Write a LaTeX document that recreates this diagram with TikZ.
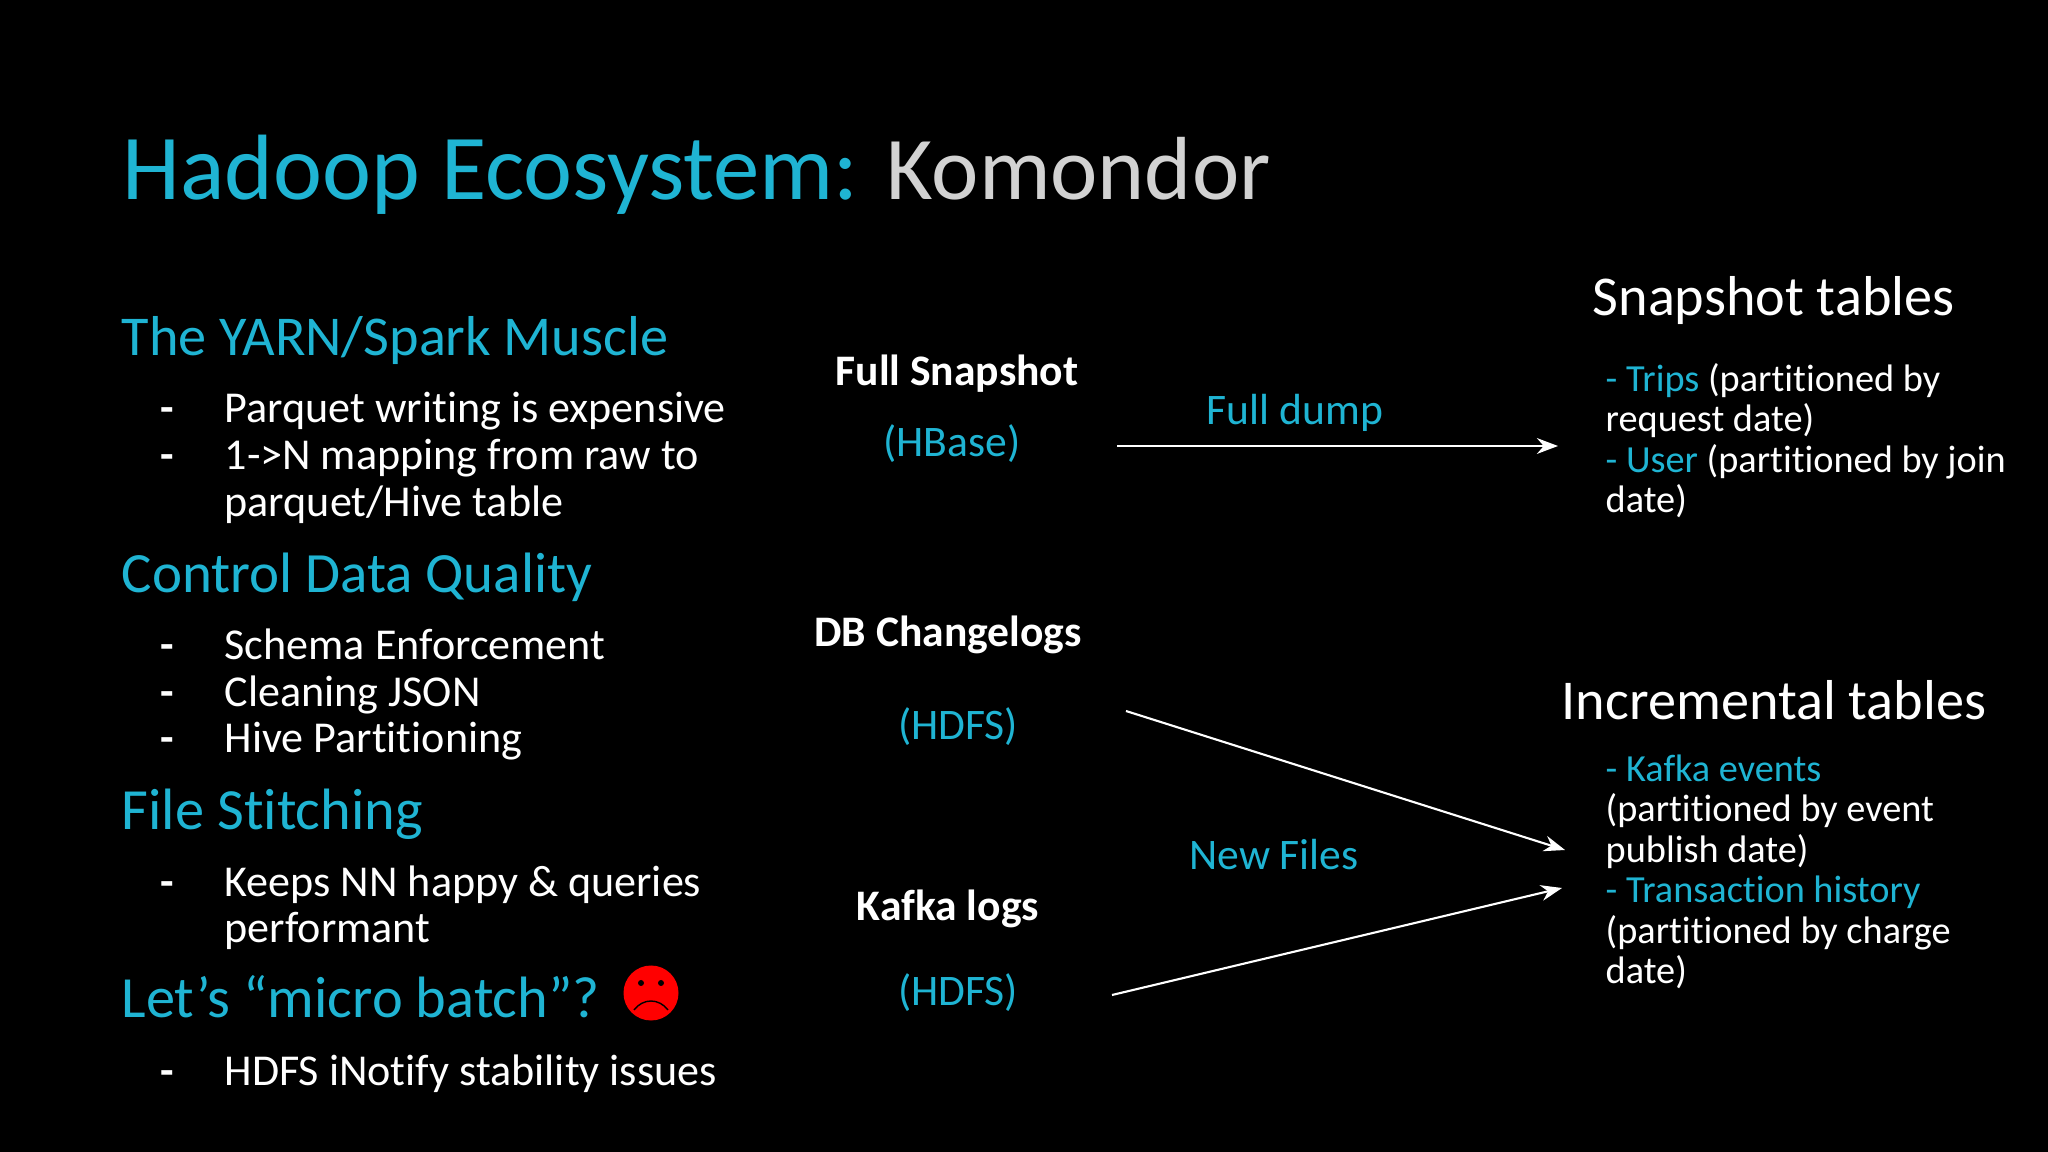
\documentclass[tikz,border=0pt]{standalone}
\usepackage{fontspec}
\setmainfont{Carlito}[Ligatures=NoCommon]
\usetikzlibrary{arrows.meta}
\definecolor{hadoopcyan}{HTML}{1FB4D3}
\definecolor{softgrey}{HTML}{D2D2D2}
\tikzset{
  titletext/.style={anchor=base west, inner sep=0pt, text=hadoopcyan, font=\fontsize{26.4}{32}\selectfont},
  headtext/.style={anchor=base west, inner sep=0pt, text=hadoopcyan, font=\fontsize{16.2}{20}\selectfont},
  bodytext/.style={anchor=base west, inner sep=0pt, text=white, align=left, font=\fontsize{12.55}{13.37}\selectfont},
  sourcetext/.style={anchor=base, inner sep=0pt, text=white, font=\bfseries\fontsize{12.4}{15}\selectfont},
  storetext/.style={anchor=base, inner sep=0pt, text=hadoopcyan, font=\fontsize{12.4}{15}\selectfont},
  tabletext/.style={anchor=base west, inner sep=0pt, text=white, font=\fontsize{16}{20}\selectfont},
  listtext/.style={anchor=base west, inner sep=0pt, text=white, align=left, font=\fontsize{10.9}{11.52}\selectfont},
  flowarrow/.style={draw=white, line width=0.6pt, -{Stealth[length=6pt,width=4.5pt]}}
}
\begin{document}
\begin{tikzpicture}
            \fill[black] (0,0) rectangle (20.48,-11.52);
            \useasboundingbox (0,0) rectangle (20.48,-11.52);

            % Title
            \node[titletext] (title) at (1.22,-2.0) {Hadoop Ecosystem: {\fontsize{25.5}{32}\selectfont\textcolor{softgrey}{Komondor}}};

            % Left column
            \node[headtext, font=\fontsize{16}{20}\selectfont] (yarn) at (1.21,-3.56) {The YARN/Spark Muscle};
            \node[bodytext] (yarnd) at (1.6,-4.69) {\textbf{-}\\\textbf{-}};
            \node[bodytext] (yarnb) at (2.24,-5.16) {Parquet writing is expensive\\1->N mapping from raw to\\parquet/Hive table};

            \node[headtext] (quality) at (1.21,-5.93) {Control Data Quality};
            \node[bodytext] (qualityd) at (1.6,-7.53) {\textbf{-}\\\textbf{-}\\\textbf{-}};
            \node[bodytext] (qualityb) at (2.24,-7.53) {Schema Enforcement\\Cleaning JSON\\Hive Partitioning};

            \node[headtext, font=\fontsize{16.6}{20}\selectfont] (stitch) at (1.21,-8.29) {File Stitching};
            \node[bodytext] (stitchd) at (1.6,-8.96) {\textbf{-}};
            \node[bodytext] (stitchb) at (2.24,-9.43) {Keeps NN happy \& queries\\performant};

            \node[headtext, font=\fontsize{16.6}{20}\selectfont] (micro) at (1.21,-10.18) {Let’s “micro batch”?};
            \node[bodytext] (microd) at (1.6,-10.85) {\textbf{-}};
            \node[bodytext] (microb) at (2.24,-10.85) {HDFS iNotify stability issues};

            % Sad face
            \node[circle, fill=red, inner sep=0pt, minimum size=0.55cm] (face) at (6.51,-9.93) {};
            \begin{scope}[shift={(face.center)}]
                \fill[black] (-0.1,0.1) circle (0.03);
                \fill[black] (0.1,0.1) circle (0.03);
                \draw[black, line width=0.4pt] (-0.17,-0.17) .. controls (-0.08,-0.05) and (0.08,-0.05) .. (0.17,-0.17);
            \end{scope}

            % Middle column
            \node[sourcetext] (full) at (9.57,-3.86) {Full Snapshot};
            \node[storetext] (hbase) at (9.52,-4.57) {(HBase)};
            \node[sourcetext] (changelog) at (9.48,-6.47) {DB Changelogs};
            \node[storetext] (hdfsa) at (9.58,-7.39) {(HDFS)};
            \node[sourcetext] (kafka) at (9.48,-9.2) {Kafka logs};
            \node[storetext] (hdfsb) at (9.58,-10.05) {(HDFS)};

            \node[storetext] (dump) at (12.95,-4.24) {Full dump};
            \node[storetext] (newfiles) at (12.74,-8.7) {New Files};

            % Right column
            \node[tabletext] (snapshot) at (15.92,-3.16) {Snapshot tables};
            \node[listtext] (snaplist) at (16.05,-5.125) {\textcolor{hadoopcyan}{- Trips} (partitioned by\\request date)\\\textcolor{hadoopcyan}{- User} (partitioned by join\\date)};
            \node[tabletext] (incremental) at (15.61,-7.19) {Incremental tables};
            \node[listtext] (inclist) at (16.05,-9.835) {\textcolor{hadoopcyan}{- Kafka events}\\(partitioned by event\\publish date)\\\textcolor{hadoopcyan}{- Transaction history}\\(partitioned by charge\\date)};

            % Arrow ends
            \coordinate (fulla) at (11.17,-4.46);
            \coordinate (fullb) at (15.58,-4.46);
            \coordinate (changea) at (11.26,-7.11);
            \coordinate (changeb) at (15.65,-8.5);
            \coordinate (kafkaa) at (11.12,-9.95);
            \coordinate (kafkab) at (15.62,-8.88);

            % Edges
            \draw[flowarrow] (fulla) -- (fullb);
            \draw[flowarrow] (changea) -- (changeb);
            \draw[flowarrow] (kafkaa) -- (kafkab);
\end{tikzpicture}
\end{document}
